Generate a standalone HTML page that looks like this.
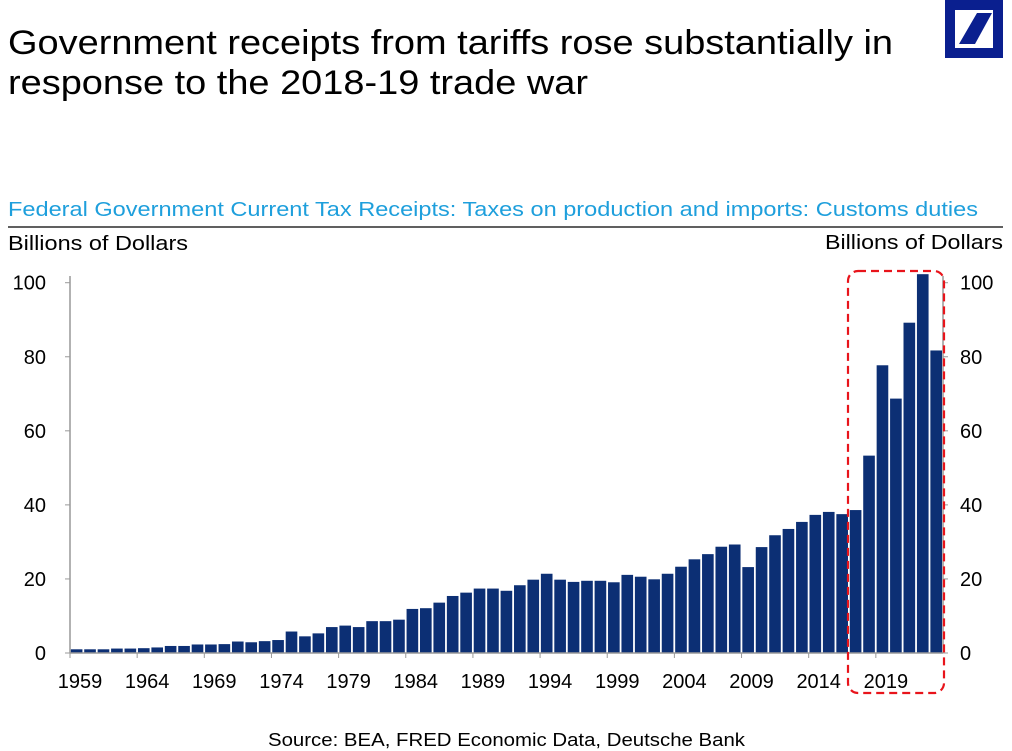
<!DOCTYPE html>
<html><head><meta charset="utf-8"><style>
body{margin:0;background:#fff;width:1012px;height:751px;overflow:hidden;font-family:"Liberation Sans",sans-serif;}
svg{display:block}
</style></head><body>
<svg width="1012" height="751">
<text x="8" y="54" font-size="34" textLength="885" lengthAdjust="spacingAndGlyphs" fill="#000">Government receipts from tariffs rose substantially in</text>
<text x="8" y="94" font-size="34" textLength="580" lengthAdjust="spacingAndGlyphs" fill="#000">response to the 2018-19 trade war</text>
<g>
<rect x="945" y="0" width="58" height="58" fill="#0a1f8f"/>
<rect x="955" y="10" width="38" height="38" fill="#fff"/>
<polygon points="959,44 975,44 992,13 977,13" fill="#0a1f8f"/>
</g>
<text x="8" y="216" font-size="20.5" textLength="970" lengthAdjust="spacingAndGlyphs" fill="#1e9fdc">Federal Government Current Tax Receipts: Taxes on production and imports: Customs duties</text>
<line x1="8" y1="227" x2="1003" y2="227" stroke="#000" stroke-width="1.3"/>
<text x="8" y="250" font-size="20" textLength="180" lengthAdjust="spacingAndGlyphs">Billions of Dollars</text>
<text x="825" y="249" font-size="20" textLength="178" lengthAdjust="spacingAndGlyphs">Billions of Dollars</text>
<g id="plot"></g>
<rect x="848" y="271" width="96" height="422" rx="10" fill="none" stroke="#e8141b" stroke-width="2.2" stroke-dasharray="8,5"/>
<text x="268" y="746" font-size="18" textLength="477" lengthAdjust="spacingAndGlyphs">Source: BEA, FRED Economic Data, Deutsche Bank</text>
</svg>
<script>
const years=[];for(let y=1959;y<=2023;y++)years.push(y);
const values=[1.0,1.0,1.0,1.2,1.2,1.3,1.5,1.9,1.9,2.3,2.3,2.4,3.1,2.9,3.2,3.5,5.8,4.5,5.3,7.0,7.4,7.0,8.6,8.6,9.0,11.9,12.1,13.6,15.4,16.3,17.4,17.4,16.8,18.3,19.8,21.4,19.8,19.2,19.5,19.5,19.1,21.1,20.6,19.9,21.4,23.3,25.3,26.7,28.7,29.3,23.2,28.6,31.8,33.5,35.4,37.3,38.1,37.5,38.6,53.3,77.7,68.7,89.2,102.3,81.7];
const yTicks=[0,20,40,60,80,100];
const xTickYears=[1959,1964,1969,1974,1979,1984,1989,1994,1999,2004,2009,2014,2019];
const NS="http://www.w3.org/2000/svg";
const g=document.getElementById('plot');
const x0=70,x1=943,y0=653,yTop=282.7;
const slot=(x1-x0)/years.length;
const xs=i=>x0+i*slot;
const ys=v=>y0-(v/100)*(y0-yTop);
function mk(t,a){const e=document.createElementNS(NS,t);for(const k in a)e.setAttribute(k,a[k]);g.appendChild(e);return e;}
values.forEach((v,i)=>{
 const r=mk('rect',{x:xs(i)+0.8,y:ys(v),width:slot-1.8,height:y0-ys(v),fill:'#0c2f74'});
 
 
});
mk('line',{x1:x0,y1:276,x2:x0,y2:y0,stroke:'#999','stroke-width':1.5});
mk('line',{x1:x1,y1:276,x2:x1,y2:y0,stroke:'#999','stroke-width':1.5});
mk('line',{x1:x0,y1:y0,x2:x1,y2:y0,stroke:'#999','stroke-width':1.5});
yTicks.forEach(t=>{
 mk('line',{x1:x0-5,y1:ys(t),x2:x0,y2:ys(t),stroke:'#999'});
 mk('line',{x1:x1,y1:ys(t),x2:x1+5,y2:ys(t),stroke:'#999'});
 const a=mk('text',{x:46,y:ys(t)+7,'font-size':20,'text-anchor':'end'});a.textContent=t;
 
 
 const b=mk('text',{x:960,y:ys(t)+7,'font-size':20});b.textContent=t;
 
 
});
xTickYears.forEach(yr=>{
 const i=yr-1959,x=xs(i);
 mk('line',{x1:x,y1:y0,x2:x,y2:y0+5,stroke:'#999'});
 const t=mk('text',{x:x+10,y:688,'font-size':20,'text-anchor':'middle'});t.textContent=yr;
 
 
});
</script>
</body></html>
